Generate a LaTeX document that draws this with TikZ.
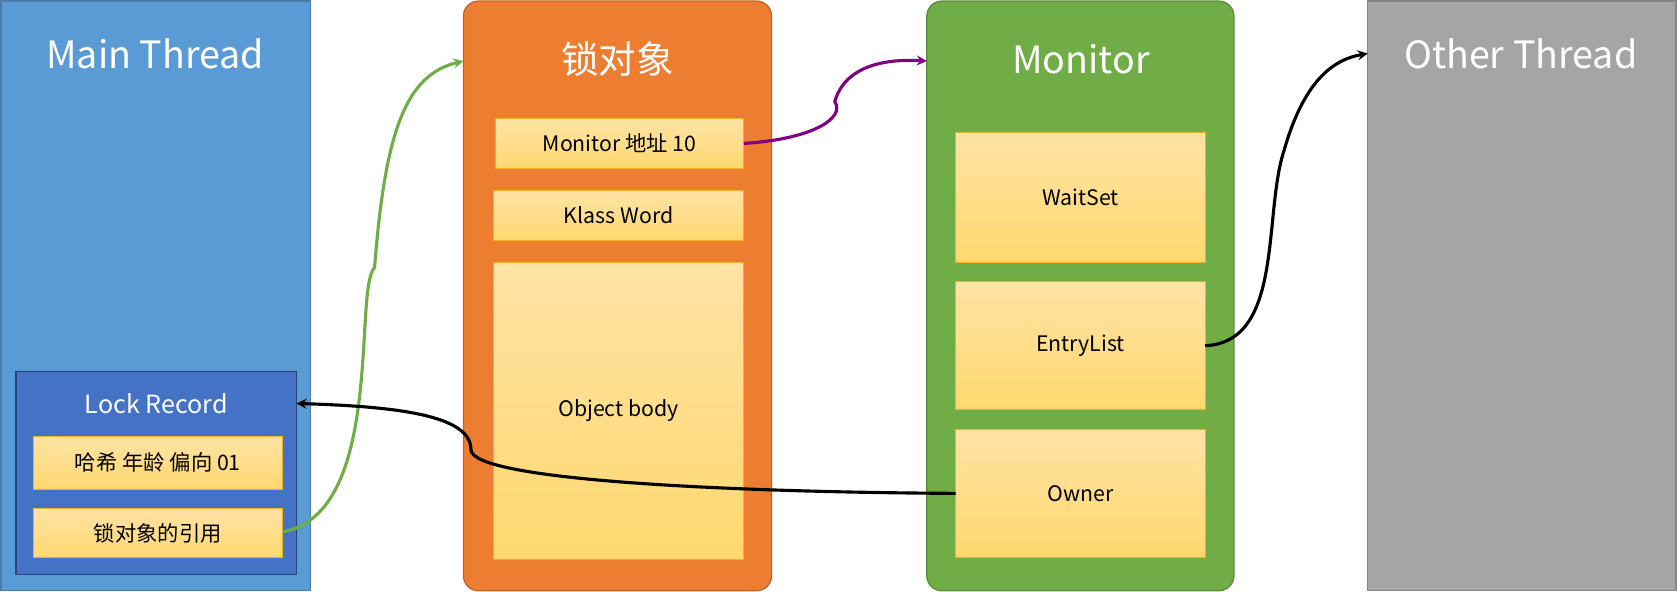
\documentclass[tikz,border=0pt]{standalone}
\usepackage{fontspec}
\setmainfont{Noto Sans CJK SC}
\definecolor{mainblue}{HTML}{5B9BD5}
\definecolor{lockblue}{HTML}{4472C4}
\definecolor{objorange}{HTML}{ED7D31}
\definecolor{mongreen}{HTML}{70AD47}
\definecolor{othergray}{HTML}{A5A5A5}
\definecolor{celltop}{HTML}{FFE3A6}
\definecolor{cellbot}{HTML}{FFD86E}
\tikzset{
    column/.style={draw=#1!80!black, fill=#1, line width=1pt},
    cell/.style={draw=objorange!60!yellow, top color=celltop, bottom color=cellbot, line width=0.8pt},
    title/.style={text=white, font=\fontsize{30}{34}\selectfont},
    label/.style={font=\fontsize{17}{20}\selectfont}
}
\begin{document}
\begin{tikzpicture}[x=0.03cm, y=-0.03cm]
    \useasboundingbox (0,0) rectangle (1567,553);
    % columns
    \draw[column=mainblue] (1,1) rectangle (290,552);
    \draw[column=objorange, rounded corners=12pt] (433,1) rectangle (721,552);
    \draw[column=mongreen, rounded corners=12pt] (866,1) rectangle (1153,552);
    \draw[column=othergray] (1278,1) rectangle (1566,552);
    \node[title] (main) at (145,50) {Main Thread};
    \node[title] (obj) at (577,55) {锁对象};
    \node[title] (mon) at (1010,55) {Monitor};
    \node[title] (other) at (1421,50) {Other Thread};
    % lock record
    \draw[draw=lockblue!60!black, fill=lockblue, line width=1pt] (15,347) rectangle (277,537);
    \node[title, font=\fontsize{20}{24}\selectfont] (lockt) at (146,377) {Lock Record};
    \coordinate (lock) at (277,377);
    % cells
    \draw[cell] (31,408) rectangle node[label] (hash) {哈希 年龄 偏向 01} (264,457);
    \draw[cell] (31,475) rectangle node[label] (ref) {锁对象的引用} (264,521);
    \draw[cell] (463,111) rectangle node[label] (addr) {Monitor 地址 10} (695,157);
    \draw[cell] (461,178) rectangle node[label] (klass) {Klass Word} (695,225);
    \draw[cell] (461,245) rectangle node[label] (body) {Object body} (695,523);
    \draw[cell] (893,124) rectangle node[label] (wait) {WaitSet} (1126,245);
    \draw[cell] (893,263) rectangle node[label] (entry) {EntryList} (1126,383);
    \draw[cell] (893,401) rectangle node[label] (owner) {Owner} (1126,521);
    \coordinate (refE) at (264,497);
    \coordinate (addrE) at (695,134);
    \coordinate (entryE) at (1126,323);
    \coordinate (ownerW) at (893,461);
    \coordinate (objT) at (433,57);
    \coordinate (monT) at (866,57);
    \coordinate (otherT) at (1278,50);
    % connectors
    \draw[mongreen, line width=2.5pt, -stealth] (refE) .. controls (360,480) and (330,270) .. (350,250)
        .. controls (360,120) and (380,70) .. (objT);
    \draw[violet, line width=2.5pt, -stealth] (addrE) .. controls (760,130) and (790,110) .. (780,95)
        .. controls (790,60) and (830,55) .. (monT);
    \draw[black, line width=2.5pt, -stealth] (entryE) .. controls (1200,320) and (1180,200) .. (1200,140)
        .. controls (1220,70) and (1250,55) .. (otherT);
    \draw[black, line width=2.5pt, -stealth] (ownerW) .. controls (700,460) and (440,450) .. (440,420)
        .. controls (440,390) and (380,380) .. (lock);
\end{tikzpicture}
\end{document}
